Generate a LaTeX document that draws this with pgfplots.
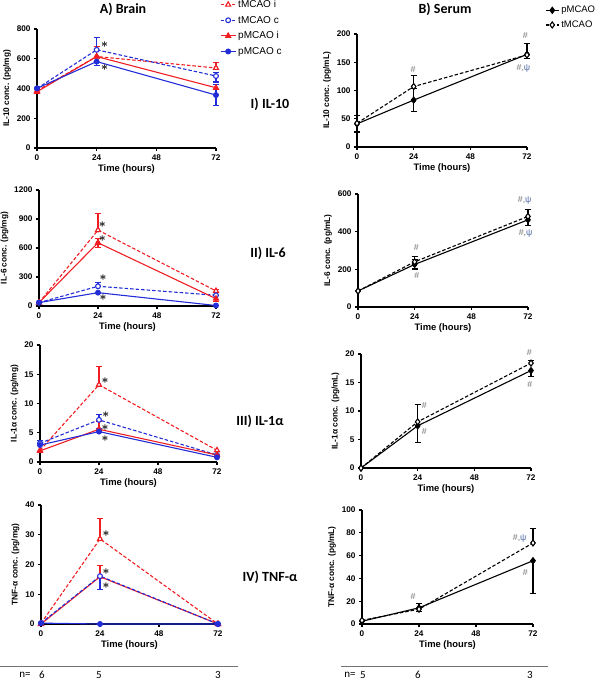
\documentclass[border=0pt]{standalone}
\usepackage{fontspec}
\setmainfont{Liberation Sans}
\newfontfamily\calfont{Carlito}
\usepackage{pgfplots}
\pgfplotsset{compat=1.18}

\definecolor{gpred}{RGB}{240,30,35}
\definecolor{gpblue}{RGB}{35,45,215}
\definecolor{hashgray}{RGB}{115,115,115}
\definecolor{psiblue}{RGB}{80,105,165}

\pgfplotsset{
  gp/.style={scale only axis, xmin=0, xmax=72, ymin=0, clip=false,
    axis x line*=bottom, axis y line*=left,
    axis line style={line width=1.1pt, -},
    xtick={0,24,48,72}, tick align=outside, major tick length=3pt,
    tick style={black, line width=1.1pt},
    /pgf/number format/assume math mode=true, /pgf/number format/1000 sep={},
    scaled ticks=false,
    ticklabel style={font=\fontsize{8.2}{9}\selectfont\bfseries},
    xlabel={Time (hours)}, xlabel style={font=\fontsize{9.4}{10}\selectfont\bfseries, yshift=3pt},
    ylabel style={font=\fontsize{8.3}{9}\selectfont\bfseries, yshift=-1pt},
  },
  ti/.style={gpred, line width=1.1pt, dash pattern=on 3.5pt off 2pt, mark=triangle*, mark size=2.9pt, mark options={solid, fill=white}},
  tc/.style={gpblue, line width=1.1pt, dash pattern=on 3.5pt off 2pt, mark=*, mark size=2.4pt, mark options={solid, fill=white}},
  pi/.style={gpred, line width=1.1pt, solid, mark=triangle*, mark size=2.9pt, mark options={solid, fill=gpred}},
  pc/.style={gpblue, line width=1.1pt, solid, mark=*, mark size=2.4pt, mark options={solid, fill=gpblue}},
  sp/.style={black, line width=1.1pt, solid, mark=diamond*, mark size=3pt, mark options={solid, fill=black}},
  st/.style={black, line width=1.1pt, dash pattern=on 3.5pt off 2pt, mark=diamond*, mark size=3pt, mark options={solid, fill=white}},
  ebp/.style={forget plot, only marks, mark=none, error bars/.cd, y dir=plus, y explicit, error bar style={line width=1.1pt, solid}, error mark options={rotate=90, mark size=3pt, line width=1.1pt, solid}},
  ebm/.style={forget plot, only marks, mark=none, error bars/.cd, y dir=minus, y explicit, error bar style={line width=1.1pt, solid}, error mark options={rotate=90, mark size=3pt, line width=1.1pt, solid}},
}
\tikzset{
  star/.style={font=\fontsize{13}{13}\selectfont\boldmath, inner sep=0pt, text height=3pt, text depth=0pt},
  hash/.style={text=hashgray, font=\fontsize{8.8}{9}\selectfont, inner sep=0pt},
  ttl/.style={font=\calfont\bfseries\fontsize{14}{15}\selectfont},
}
\newcommand{\hp}{\#,{\color{psiblue}ψ}}
\newcommand{\st}{\raisebox{-1.2pt}{$\ast$}}

\begin{document}
\begin{tikzpicture}
\useasboundingbox (0pt,0pt) rectangle (600pt,-681pt);

% titles
\node[ttl] at (123pt,-9pt) {A) Brain};
\node[ttl] at (445pt,-9pt) {B) Serum};
\node[ttl] at (270pt,-104pt) {I) IL-10};
\node[ttl] at (268pt,-253pt) {II) IL-6};
\node[ttl] at (260pt,-421pt) {III) IL-1α};
\node[ttl] at (270pt,-577pt) {IV) TNF-α};

% ===== A1 IL-10 brain
\begin{axis}[gp, at={(37pt,-148pt)}, anchor=south west, width=179pt, height=119pt,
  ymax=800, ytick={0,200,400,600,800}, ylabel={IL-10 conc. (pg/mg)},
  legend style={at={(1.022,1.26)}, anchor=north west, draw=none, fill=none,
    font=\fontsize{10}{11}\selectfont, inner sep=0pt, row sep=3pt, cells={anchor=west}},
  legend image code/.code={\draw[mark repeat=2,mark phase=2] plot coordinates {(0pt,0pt)(7.5pt,0pt)(15pt,0pt)};}]
\addplot[gpred, ebp] coordinates {(24,615) +- (0,68) (72,538) +- (0,39)};
\addplot[gpblue, ebp] coordinates {(24,660) +- (0,80) (72,484) +- (0,25) (72,356) +- (0,68)};
\addplot[gpblue, ebm] coordinates {(24,581) +- (0,27) (72,484) +- (0,40) (72,356) +- (0,68)};
\addplot[ti] coordinates {(0,385) (24,615) (72,538)};
\addplot[tc] coordinates {(0,400) (24,660) (72,484)};
\addplot[pi] coordinates {(0,378) (24,615) (72,405)};
\addplot[pc] coordinates {(0,401) (24,581) (72,356)};
\legend{tMCAO i, tMCAO c, pMCAO i, pMCAO c}
\node[star] at (axis cs:27.2,694) {\st};
\node[star] at (axis cs:27.2,536) {\st};
\end{axis}

% ===== B1 IL-10 serum
\begin{axis}[gp, at={(357pt,-147pt)}, anchor=south west, width=170pt, height=113pt,
  ymax=200, ytick={0,50,100,150,200}, ylabel={IL-10 conc. (pg/mL)},
  legend style={at={(1.106,1.265)}, anchor=north west, draw=none, fill=none,
    font=\fontsize{9.5}{10}\selectfont, inner sep=0pt, row sep=2.5pt, cells={anchor=west}},
  legend image code/.code={\draw[mark repeat=2,mark phase=2] plot coordinates {(0pt,0pt)(6.5pt,0pt)(13pt,0pt)};}]
\addplot[black, ebp] coordinates {(0,41) +- (0,14.5) (24,83) +- (0,20) (24,107) +- (0,19) (72,164) +- (0,19)};
\addplot[black, ebm] coordinates {(0,41) +- (0,14.5) (24,83) +- (0,20) (72,164) +- (0,7)};
\addplot[sp] coordinates {(0,41) (24,83) (72,164)};
\addplot[st] coordinates {(0,42) (24,107) (72,163)};
\legend{pMCAO, tMCAO}
\node[hash] at (axis cs:23.8,137) {\#};
\node[hash] at (axis cs:71.3,197) {\#};
\node[hash] at (axis cs:70.5,140) {\hp};
\end{axis}

% ===== A2 IL-6 brain
\begin{axis}[gp, at={(39pt,-306pt)}, anchor=south west, width=177pt, height=116pt,
  ymax=1200, ytick={0,300,600,900,1200}, ylabel={IL-6 conc. (pg/mg)}]
\addplot[gpred, ebp] coordinates {(24,785) +- (0,170) (24,654) +- (0,45) (72,156) +- (0,15)};
\addplot[gpred, ebm] coordinates {(24,654) +- (0,45) (72,76) +- (0,30)};
\addplot[gpblue, ebp] coordinates {(24,204) +- (0,35)};
\addplot[ti] coordinates {(0,35) (24,785) (72,156)};
\addplot[tc] coordinates {(0,35) (24,204) (72,111)};
\addplot[pi] coordinates {(0,35) (24,654) (72,76)};
\addplot[pc] coordinates {(0,35) (24,138) (72,5)};
\node[star] at (axis cs:25.8,844) {\st};
\node[star] at (axis cs:25.8,692) {\st};
\node[star] at (axis cs:26.1,294) {\st};
\node[star] at (axis cs:26.1,83) {\st};
\end{axis}

% ===== B2 IL-6 serum
\begin{axis}[gp, at={(358pt,-307pt)}, anchor=south west, width=170pt, height=113pt,
  ymax=600, ytick={0,200,400,600}, ylabel={IL-6 conc. (pg/mL)}]
\addplot[black, ebp] coordinates {(24,226) +- (0,24) (24,240) +- (0,27) (72,481) +- (0,39)};
\addplot[black, ebm] coordinates {(24,226) +- (0,24) (72,463) +- (0,30)};
\addplot[sp] coordinates {(0,85) (24,226) (72,463)};
\addplot[st] coordinates {(0,85) (24,240) (72,481)};
\node[hash] at (axis cs:24.7,315) {\#};
\node[hash] at (axis cs:24.9,169) {\#};
\node[hash] at (axis cs:70.6,566) {\hp};
\node[hash] at (axis cs:71.0,392) {\hp};
\end{axis}

% ===== A3 IL-1a brain
\begin{axis}[gp, at={(40pt,-462pt)}, anchor=south west, width=177pt, height=117pt,
  ymax=20, ytick={0,5,10,15,20}, ylabel={IL-1α conc. (pg/mg)}]
\addplot[gpred, ebp] coordinates {(24,13.2) +- (0,3.2) (24,5.6) +- (0,1.4)};
\addplot[gpblue, ebp] coordinates {(0,3.2) +- (0,0.5) (24,7.2) +- (0,0.9) (24,5.2) +- (0,0.6)};
\addplot[ti] coordinates {(0,2.0) (24,13.2) (72,2.0)};
\addplot[tc] coordinates {(0,3.2) (24,7.2) (72,1.2)};
\addplot[pi] coordinates {(0,1.9) (24,5.6) (72,1.2)};
\addplot[pc] coordinates {(0,2.9) (24,5.2) (72,0.8)};
\node[star] at (axis cs:26.5,13.8) {\st};
\node[star] at (axis cs:26.8,8.1) {\st};
\node[star] at (axis cs:26.5,5.9) {\st};
\node[star] at (axis cs:26.5,4.0) {\st};
\end{axis}

% ===== B3 IL-1a serum
\begin{axis}[gp, at={(361pt,-468pt)}, anchor=south west, width=170pt, height=114pt,
  ymax=20, ytick={0,5,10,15,20}, ylabel={IL-1α conc. (pg/mL)}]
\addplot[black, ebp] coordinates {(24,7.4) +- (0,3.8) (72,18.4) +- (0,0.4)};
\addplot[black, ebm] coordinates {(24,7.4) +- (0,2.9) (72,17.1) +- (0,1.0)};
\addplot[sp] coordinates {(0,0) (24,7.4) (72,17.1)};
\addplot[st] coordinates {(0,0) (24,8.1) (72,18.4)};
\node[hash] at (axis cs:26.8,10.9) {\#};
\node[hash] at (axis cs:26.8,6.4) {\#};
\node[hash] at (axis cs:71.3,20.3) {\#};
\node[hash] at (axis cs:71.5,14.6) {\#};
\end{axis}

% ===== A4 TNF brain
\begin{axis}[gp, at={(41pt,-624pt)}, anchor=south west, width=177pt, height=119pt,
  ymax=40, ytick={0,10,20,30,40}, ylabel={TNF-α conc. (pg/mg)}]
\addplot[gpred, ebp] coordinates {(24,28.6) +- (0,6.8) (24,15.9) +- (0,3.9)};
\addplot[gpblue, ebm] coordinates {(24,16.1) +- (0,4.5)};
\addplot[ti] coordinates {(0,0.2) (24,28.6) (72,0)};
\addplot[pi] coordinates {(0,0) (24,15.9) (72,0)};
\addplot[tc] coordinates {(0,0.3) (24,16.1) (72,0)};
\addplot[pc] coordinates {(0,0.3) (24,0) (72,0)};
\node[star] at (axis cs:26.5,30.3) {\st};
\node[star] at (axis cs:26.5,17.7) {\st};
\node[star] at (axis cs:26.5,12.9) {\st};
\end{axis}

% ===== B4 TNF serum
\begin{axis}[gp, at={(362pt,-624pt)}, anchor=south west, width=171pt, height=114pt,
  ymax=100, ytick={0,20,40,60,80,100}, ylabel={TNF-α conc. (pg/mL)}]
\addplot[black, ebp] coordinates {(24,14.2) +- (0,3.5) (72,71.1) +- (0,12.7)};
\addplot[black, ebm] coordinates {(24,14.2) +- (0,3.5) (72,55.5) +- (0,28.7)};
\addplot[sp] coordinates {(0,2.4) (24,14.2) (72,55.5)};
\addplot[st] coordinates {(0,3.2) (24,13) (72,71.1)};
\node[hash] at (axis cs:21.5,24.5) {\#};
\node[hash] at (axis cs:66.4,75.5) {\hp};
\node[hash] at (axis cs:68.8,45.4) {\#};
\end{axis}

% n rows
\draw[black!55, line width=0.6pt] (0pt,-666pt) -- (238pt,-666pt);
\draw[black!55, line width=0.6pt] (341pt,-666pt) -- (548pt,-666pt);
\begin{scope}[every node/.style={font=\calfont\fontsize{11}{12}\selectfont, inner sep=0pt}]
\node at (25pt,-675pt) {n=};
\node at (42pt,-675pt) {6};
\node at (99pt,-675pt) {5};
\node at (218pt,-675pt) {3};
\node at (350pt,-675pt) {n=};
\node at (363pt,-675pt) {5};
\node at (418pt,-675pt) {6};
\node at (530pt,-675pt) {3};
\end{scope}
\end{tikzpicture}
\end{document}
